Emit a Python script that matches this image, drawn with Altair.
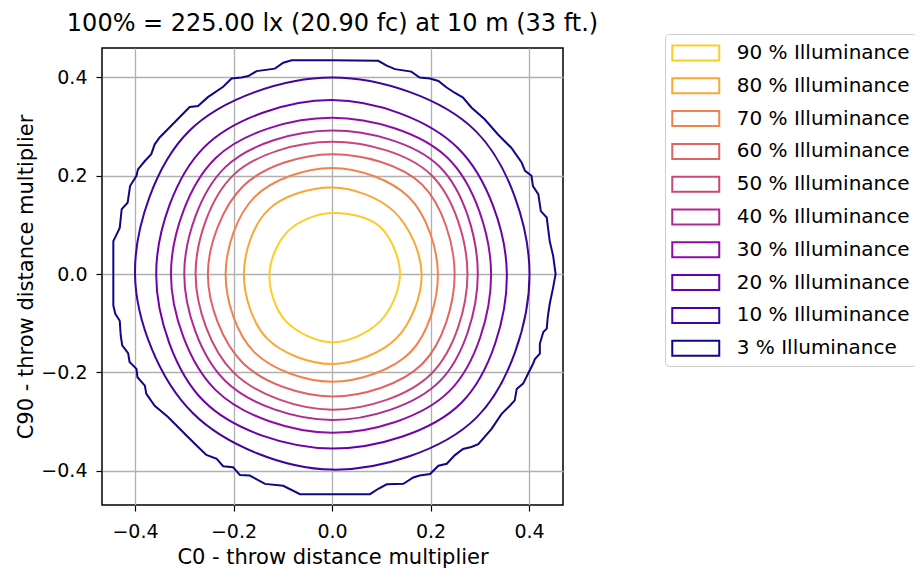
import altair as alt
import pandas as pd
import math

# ---- data ----
levels = ["90 % Illuminance", "80 % Illuminance", "70 % Illuminance", "60 % Illuminance",
          "50 % Illuminance", "40 % Illuminance", "30 % Illuminance", "20 % Illuminance",
          "10 % Illuminance", "3 % Illuminance"]
colors = ["#fcce25", "#fca636", "#f2844b", "#e16462", "#cc4778",
          "#b12a90", "#8f0da4", "#6a00a8", "#41049d", "#0d0887"]

# polar readings of inner contours: angles in degrees (E, NE, N, NW, W, SW, S, SE)
angles = [0, 45, 90, 135, 180, 225, 270, 315]
radii = {
    "90 % Illuminance": [0.138, 0.137, 0.124, 0.125, 0.127, 0.134, 0.139, 0.137],
    "80 % Illuminance": [0.182, 0.179, 0.176, 0.184, 0.179, 0.186, 0.183, 0.185],
    "70 % Illuminance": [0.215, 0.221, 0.216, 0.222, 0.216, 0.224, 0.219, 0.225],
    "60 % Illuminance": [0.249, 0.258, 0.244, 0.254, 0.252, 0.256, 0.249, 0.259],
    "50 % Illuminance": [0.275, 0.285, 0.269, 0.284, 0.277, 0.283, 0.276, 0.286],
    "40 % Illuminance": [0.296, 0.309, 0.292, 0.307, 0.300, 0.307, 0.297, 0.309],
    "30 % Illuminance": [0.323, 0.333, 0.318, 0.334, 0.327, 0.334, 0.323, 0.337],
    "20 % Illuminance": [0.355, 0.362, 0.354, 0.366, 0.357, 0.367, 0.355, 0.371],
    "10 % Illuminance": [0.401, 0.412, 0.400, 0.411, 0.400, 0.400, 0.398, 0.414],
}

# outer 3 % contour, traced point by point
outer_x = [-0.001, 0.094, 0.111, 0.128, 0.161, 0.178, 0.199, 0.216, 0.232, 0.249, 0.266, 0.283,
           0.310, 0.337, 0.364, 0.385, 0.392, 0.405, 0.408, 0.419, 0.424, 0.436, 0.442, 0.449, 0.454,
           0.449, 0.442, 0.438, 0.436, 0.429, 0.422, 0.422, 0.412, 0.408, 0.398, 0.388, 0.375, 0.371,
           0.361, 0.344, 0.324, 0.297, 0.283, 0.266, 0.249, 0.233, 0.216, 0.199, 0.178, 0.165, 0.145,
           0.111, 0.094, 0.077, -0.001,
           -0.065, -0.099, -0.136, -0.167, -0.187, -0.201, -0.221, -0.234, -0.255, -0.275, -0.295,
           -0.333, -0.360, -0.377, -0.380, -0.395, -0.397, -0.411, -0.414, -0.426, -0.429, -0.431,
           -0.440, -0.444, -0.444,
           -0.444, -0.431, -0.427, -0.415, -0.410, -0.397, -0.394, -0.380, -0.367, -0.360, -0.350,
           -0.333, -0.289, -0.272, -0.252, -0.221, -0.204, -0.184, -0.170, -0.153, -0.116, -0.099, -0.082]
outer_y = [0.435, 0.434, 0.424, 0.417, 0.412, 0.400, 0.398, 0.393, 0.380, 0.369, 0.359, 0.339,
           0.315, 0.284, 0.257, 0.227, 0.210, 0.200, 0.179, 0.162, 0.128, 0.115, 0.067, 0.037, 0.000,
           -0.027, -0.061, -0.088, -0.111, -0.118, -0.142, -0.162, -0.173, -0.183, -0.203, -0.223,
           -0.234, -0.257, -0.268, -0.285, -0.315, -0.346, -0.352, -0.356, -0.369, -0.386, -0.390,
           -0.407, -0.410, -0.414, -0.427, -0.428, -0.437, -0.448, -0.448,
           -0.448, -0.431, -0.427, -0.410, -0.409, -0.393, -0.391, -0.376, -0.368, -0.349, -0.329,
           -0.291, -0.268, -0.244, -0.227, -0.210, -0.193, -0.179, -0.161, -0.145, -0.125, -0.095,
           -0.081, -0.064, 0.001,
           0.067, 0.094, 0.132, 0.145, 0.179, 0.200, 0.213, 0.230, 0.244, 0.264, 0.278,
           0.295, 0.340, 0.342, 0.360, 0.381, 0.398, 0.400, 0.403, 0.413, 0.418, 0.430, 0.435]

x_ticks = [-0.4, -0.2, 0.0, 0.2, 0.4]
y_ticks = [-0.4, -0.2, 0.0, 0.2, 0.4]
title_text = "100% = 225.00 lx (20.90 fc) at 10 m (33 ft.)"

# ---- tables ----
rows = []
for lev, rs in radii.items():
    for i, (a, r) in enumerate(zip(angles, rs)):
        rows.append({"level": lev, "i": i,
                     "x": r * math.cos(math.radians(a)),
                     "y": r * math.sin(math.radians(a))})
inner = pd.DataFrame(rows)
outer = pd.DataFrame({"level": levels[-1], "i": range(len(outer_x)), "x": outer_x, "y": outer_y})

FONT = "DejaVu Sans"
minus = "replace(datum.label, '-', '\u2212')"

xs = alt.Scale(domain=[-0.467, 0.469], nice=False, zero=False)
ys = alt.Scale(domain=[-0.470, 0.460], nice=False, zero=False)
col = alt.Color("level:N",
                scale=alt.Scale(domain=levels, range=colors),
                legend=alt.Legend(title=None))

X = alt.X("x:Q", scale=xs, title="C0 - throw distance multiplier",
          axis=alt.Axis(values=x_ticks, format=".1f", labelExpr=minus))
Y = alt.Y("y:Q", scale=ys, title="C90 - throw distance multiplier",
          axis=alt.Axis(values=y_ticks, format=".1f", labelExpr=minus))

inner_layer = alt.Chart(inner).mark_line(interpolate="cardinal-closed", strokeWidth=2).encode(
    x=X, y=Y, color=col, detail="level:N", order=alt.Order("i:Q"))
outer_layer = alt.Chart(outer).mark_line(interpolate="linear-closed", strokeWidth=2).encode(
    x=X, y=Y, color=col, detail="level:N", order=alt.Order("i:Q"))

chart = alt.layer(inner_layer, outer_layer).properties(
    width=461, height=457,
    title=alt.TitleParams(title_text, anchor="middle", fontSize=24, font=FONT,
                          fontWeight="normal", color="black", offset=-2),
    autosize=alt.AutoSizeParams(type="none"),
    padding={"left": 94, "top": 40, "right": 352, "bottom": 66},
).configure_view(stroke="black", strokeWidth=1.5).configure_axis(
    grid=True, gridColor="#b0b0b0", gridWidth=1.3, domain=False,
    tickColor="black", tickSize=6, tickWidth=1.2,
    labelFont=FONT, labelFontSize=19, labelColor="black",
    titleFont=FONT, titleFontSize=21, titleFontWeight="normal", titleColor="black",
).configure_axisX(labelPadding=11, titlePadding=5).configure_axisY(
    labelPadding=9, titlePadding=4).configure_legend(
    orient="none", legendX=563, legendY=-14,
    strokeColor="#cccccc", cornerRadius=4, padding=6, fillColor="white",
    labelFont=FONT, labelFontSize=20, labelColor="black", labelOffset=28, labelLimit=400,
    symbolType="M-2,-0.64L2,-0.64L2,0.64L-2,0.64Z", symbolSize=552, symbolOffset=11.75,
    symbolStrokeWidth=2, symbolFillColor="transparent", rowPadding=7.8,
)

chart.save("out.html", embed_options={"renderer": "svg", "actions": False})
